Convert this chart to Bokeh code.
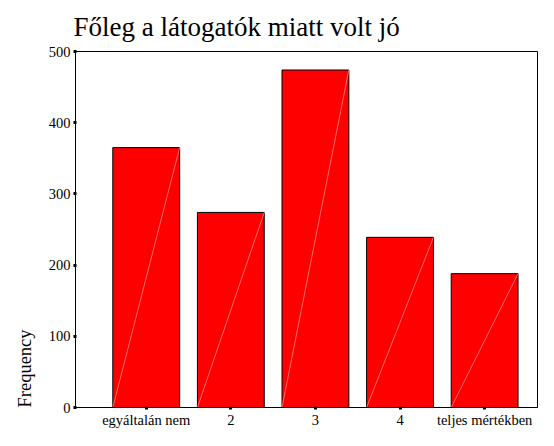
from bokeh.plotting import figure
from bokeh.models import Range1d, FixedTicker, Title, ColumnDataSource
from bokeh.embed import file_html
from bokeh.resources import INLINE

# Data
categories = ["egyáltalán nem", "2", "3", "4", "teljes mértékben"]
positions = [1, 2, 3, 4, 5]
frequencies = [365, 274, 474, 239, 188]
y_ticks = [0, 100, 200, 300, 400, 500]

FONT = "Liberation Serif"
bar_w = 0.79

src = ColumnDataSource(dict(
    x=positions,
    top=frequencies,
    x0=[p - bar_w / 2 for p in positions],
    x1=[p + bar_w / 2 for p in positions],
    y0=[0] * len(positions),
))

p = figure(width=538, height=430, output_backend="svg", toolbar_location=None,
           x_range=Range1d(0.164, 5.625), y_range=Range1d(0, 500),
           min_border_left=75, min_border_right=1, min_border_top=50,
           min_border_bottom=20)

p.title.text = "Főleg a látogatók miatt volt jó"
p.title.text_font = FONT
p.title.text_font_size = "27px"
p.title.text_font_style = "normal"
p.title.text_color = "black"
p.title.align = "left"
p.title.offset = -2
p.title.standoff = 19

p.vbar(x="x", top="top", width=bar_w, source=src, fill_color="#ff0000",
       line_color="black", line_width=1)
p.segment(x0="x0", y0="y0", x1="x1", y1="top", source=src,
          line_color="#ff9c9c", line_width=0.7)

p.add_layout(Title(text="Frequency", align="left", text_font=FONT,
                   text_font_size="18.5px", text_font_style="normal",
                   text_color="black", standoff=22), "left")

p.xgrid.visible = False
p.ygrid.visible = False
p.outline_line_color = "black"
p.outline_line_width = 1

p.xaxis.ticker = FixedTicker(ticks=positions)
p.xaxis.major_label_overrides = {pos: c for pos, c in zip(positions, categories)}
p.yaxis.ticker = FixedTicker(ticks=y_ticks)
for ax in (p.xaxis, p.yaxis):
    ax.major_label_text_font = FONT
    ax.major_label_text_font_size = "14.5px"
    ax.major_label_text_color = "black"
    ax.axis_line_color = "black"
    ax.major_tick_line_color = "black"
    ax.major_tick_line_width = 3
    ax.major_tick_in = 1
    ax.major_tick_out = 2
    ax.minor_tick_line_color = None
    ax.major_label_standoff = 3
p.xaxis.major_label_standoff = 2

open("out.html", "w").write(file_html(p, INLINE))
